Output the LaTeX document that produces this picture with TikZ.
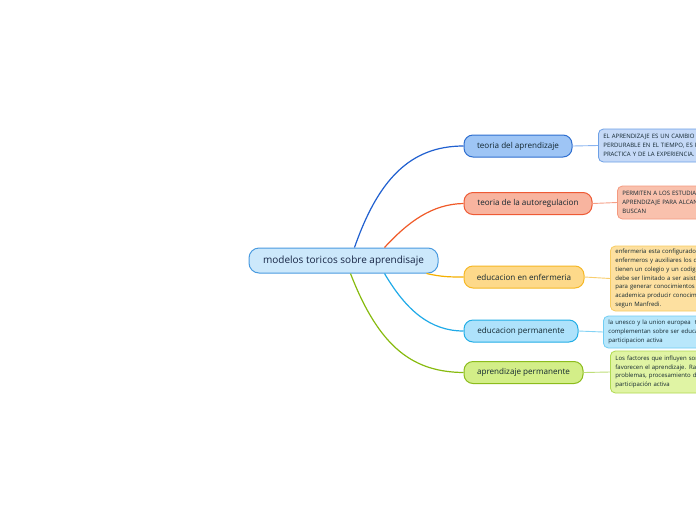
\documentclass[tikz,border=0pt]{standalone}
\usepackage{fontspec}
\setmainfont{Open Sans}
\usetikzlibrary{calc}
\definecolor{txt}{HTML}{12262F}
\definecolor{roottxt}{HTML}{172545}
\definecolor{rootline}{HTML}{4A9BE0}
\tikzset{
  rootbox/.style={draw=rootline, line width=1pt, rounded corners=10pt, minimum width=189pt, minimum height=25pt, font=\fontsize{10}{12}\selectfont, text=roottxt, inner sep=0pt},
  branchbox/.style={rounded corners=9pt, line width=1pt, minimum height=22pt, font=\fontsize{8.1}{9}\selectfont, text=txt, inner sep=0pt},
  leafbox/.style={rounded corners=5pt, line width=0.8pt, anchor=west, align=left, text width=160pt, inner xsep=5pt, inner ysep=0pt, font=\fontsize{6}{8.7}\selectfont, text=txt},
  trunk/.style={line width=1.2pt},
  twig/.style={line width=0.9pt}
}
\begin{document}
\begin{tikzpicture}[x=1pt,y=-1pt]
\useasboundingbox (0,0) rectangle (696,520);
\clip (0,0) rectangle (696,520);
\fill[white] (0,0) rectangle (696,520);
% root
\node[rootbox, fill={rgb,255:red,204;green,232;blue,251}] (root) at (343.5,260.5) {modelos toricos sobre aprendisaje};
% branches
\node[branchbox, draw={rgb,255:red,47;green,111;blue,208}, fill={rgb,255:red,158;green,197;blue,245}, minimum width=108pt] (b1) at (518,146) {teoria del aprendizaje};
\node[branchbox, draw={rgb,255:red,238;green,90;blue,53}, fill={rgb,255:red,248;green,180;blue,159}, minimum width=128pt] (b2) at (528,203.5) {teoria de la autoregulacion};
\node[branchbox, draw={rgb,255:red,246;green,184;blue,38}, fill={rgb,255:red,253;green,217;blue,138}, minimum width=120pt] (b3) at (524,277) {educacion en enfermeria};
\node[branchbox, draw={rgb,255:red,34;green,174;blue,230}, fill={rgb,255:red,174;green,226;blue,251}, minimum width=114pt] (b4) at (521,331) {educacion permanente};
\node[branchbox, draw={rgb,255:red,140;green,188;blue,28}, fill={rgb,255:red,211;green,238;blue,136}, minimum width=119pt] (b5) at (523.5,372.5) {aprendizaje permanente};
% leaves
\node[leafbox, draw={rgb,255:red,109;green,160;blue,230}, fill={rgb,255:red,197;green,217;blue,247}, minimum height=33pt] (l1) at (598,145.5) {EL APRENDIZAJE ES UN CAMBIO RELATIVAMENTE\\PERDURABLE EN EL TIEMPO, ES PRODUCTO DE LA\\PRACTICA Y DE LA EXPERIENCIA.};
\node[leafbox, draw={rgb,255:red,244;green,154;blue,128}, fill={rgb,255:red,249;green,193;blue,173}, minimum height=33pt] (l2) at (617,202.5) {PERMITEN A LOS ESTUDIANTES\\APRENDIZAJE PARA ALCANZAR\\BUSCAN};
\node[leafbox, draw={rgb,255:red,248;green,204;blue,96}, fill={rgb,255:red,253;green,224;blue,160}, minimum height=65pt] (l3) at (610,278.5) {enfermeria esta configurado por\\enfermeros y auxiliares los que\\tienen un colegio y un codigo\\debe ser limitado a ser asistencial\\para generar conocimientos\\academica producir conocimiento\\segun Manfredi.};
\node[leafbox, draw={rgb,255:red,112;green,205;blue,243}, fill={rgb,255:red,184;green,231;blue,251}, minimum height=32pt] (l4) at (603,332) {la unesco y la union europea\ \ tienen\\complementan sobre ser educacion\\participacion activa};
\node[leafbox, draw={rgb,255:red,176;green,218;blue,80}, fill={rgb,255:red,224;green,244;blue,164}, minimum height=42pt] (l5) at (610,372) {Los factores que influyen son\\favorecen el aprendizaje. Razonamiento\\problemas, procesamiento de\\participación activa};
% trunk connectors
\draw[trunk, draw={rgb,255:red,32;green,96;blue,208}] ([xshift=11pt]root.north) .. controls (378,180) and (410,146) .. (b1.west);
\draw[trunk, draw={rgb,255:red,240;green,90;blue,40}] ([xshift=41pt]root.north) .. controls (408,222) and (432,204) .. (b2.west);
\draw[trunk, draw={rgb,255:red,245;green,176;blue,0}] ([xshift=83pt]root.south) .. controls (442,277) and (450,277) .. (b3.west);
\draw[trunk, draw={rgb,255:red,32;green,170;blue,232}] ([xshift=41pt]root.south) .. controls (406,310) and (430,331) .. (b4.west);
\draw[trunk, draw={rgb,255:red,136;green,187;blue,16}] ([xshift=7pt]root.south) .. controls (380,350) and (415,372) .. (b5.west);
% twig connectors
\draw[twig, draw={rgb,255:red,138;green,180;blue,240}] (b1.east) -- (l1.west);
\draw[twig, draw={rgb,255:red,246;green,160;blue,136}] (b2.east) -- (l2.west);
\draw[twig, draw={rgb,255:red,249;green,206;blue,110}] (b3.east) -- (l3.west);
\draw[twig, draw={rgb,255:red,130;green,210;blue,245}] (b4.east) -- (l4.west);
\draw[twig, draw={rgb,255:red,190;green,222;blue,120}] (b5.east) -- (l5.west);
\end{tikzpicture}
\end{document}
